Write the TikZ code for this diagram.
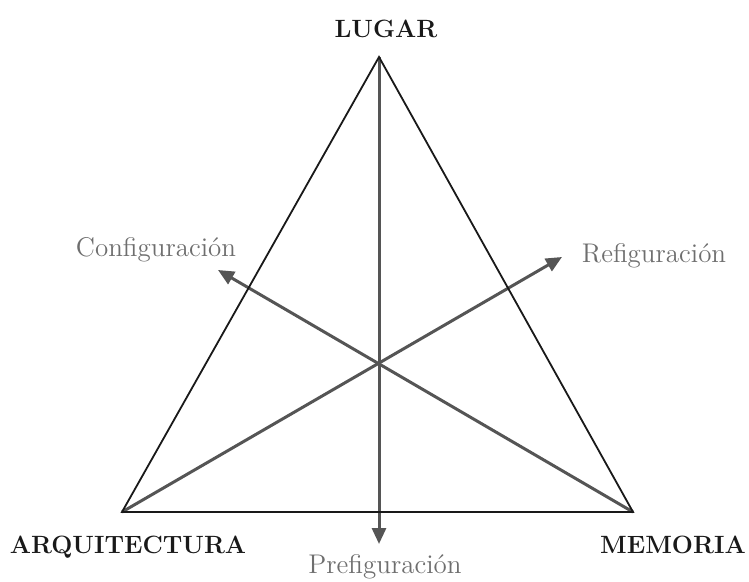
\documentclass[tikz,border=0pt]{standalone}
\usepackage{tikz}
\usetikzlibrary{arrows.meta}
\usetikzlibrary{positioning}
\definecolor{inkgray}{HTML}{555555}
\definecolor{labelgray}{HTML}{6E6E6E}
\tikzset{
    corner/.style={
        anchor=base,
        inner sep=0pt,
        text=black!90,
        font=\fontsize{12.5}{14}\selectfont\bfseries
    },
    phase/.style={
        anchor=base,
        inner sep=0pt,
        text=labelgray,
        font=\fontsize{13.5}{16}\selectfont
    },
    side/.style={
        draw=black!90,
        line width=0.9pt
    },
    flow/.style={
        draw=inkgray,
        line width=1.5pt,
        -{Triangle[length=8pt, width=7pt]}
    }
}

\begin{document}
\begin{tikzpicture}[x=0.5pt, y=-0.5pt]
    \useasboundingbox (0,0) rectangle (749,582);
    % Vertices
    \coordinate (lugar) at (379,57);
    \coordinate (arq) at (122,512);
    \coordinate (mem) at (633,512);
    % Arrow ends
    \coordinate (pre) at (379,544);
    \coordinate (conf) at (218,270);
    \coordinate (refi) at (562,257);

    % Labels
    \node[corner] (lugarlbl) at (386,38) {LUGAR};
    \node[corner] (arqlbl) at (128,553) {ARQUITECTURA};
    \node[corner] (memlbl) at (673,553) {MEMORIA};
    \node[phase] (confl) at (156,257) {Configuración};
    \node[phase] (refil) at (654,263) {Refiguración};
    \node[phase] (prel) at (385,573) {Prefiguración};

    % Arrows
    \draw[flow] (lugar) -- (pre);
    \draw[flow] (mem) -- (conf);
    \draw[flow] (arq) -- (refi);

    % Triangle
    \draw[side] (lugar) -- (arq) -- (mem) -- cycle;
\end{tikzpicture}
\end{document}
